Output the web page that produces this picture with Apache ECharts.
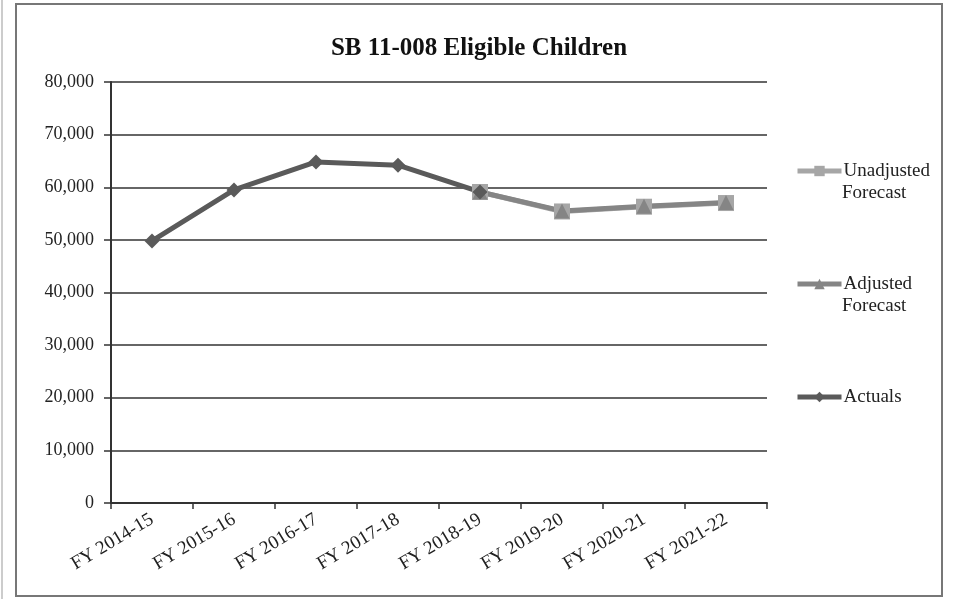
<!DOCTYPE html>
<html>
<head>
<meta charset="utf-8">
<script src="https://cdn.jsdelivr.net/npm/echarts@6/dist/echarts.min.js"></script>
<style>
  html, body { margin: 0; padding: 0; background: #fff; }
  #main { width: 953px; height: 599px; }
</style>
</head>
<body>
<div id="main"></div>
<script>
// fiscal years on the x axis
const years = ['FY 2014-15', 'FY 2015-16', 'FY 2016-17', 'FY 2017-18', 'FY 2018-19', 'FY 2019-20', 'FY 2020-21', 'FY 2021-22'];
const actuals = [49800, 59500, 64800, 64200, 59100, null, null, null];
const unadjusted = [null, null, null, null, 59100, 55400, 56300, 57000];
const adjusted = [null, null, null, null, 59100, 55500, 56400, 57100];

const chart = echarts.init(document.getElementById('main'));
const serif = '"Liberation Serif", "Times New Roman", serif';

// one legend per series so each can sit where the original puts it
function legendAt(name, label, center) {
  return {
    data: [name],
    formatter: () => label,
    left: 795,
    top: center - 11,
    padding: 0,
    itemWidth: 44,
    itemHeight: 13,
    lineStyle: { width: 5 },
    textStyle: { fontFamily: serif, fontSize: 19, color: '#222', lineHeight: 22, padding: [0, 0, 0, -3] }
  };
}

chart.setOption({
  animation: false,
  backgroundColor: '#fff',
  title: {
    text: 'SB 11-008 Eligible Children',
    left: 474,
    top: 31,
    textAlign: 'center',
    textStyle: { fontFamily: serif, fontSize: 25, fontWeight: 'bold', color: '#111' }
  },
  graphic: [
    { type: 'rect', shape: { x: 16, y: 4, width: 926, height: 592 }, style: { fill: 'none', stroke: '#777', lineWidth: 2 }, silent: true },
    { type: 'line', shape: { x1: 2, y1: 0, x2: 2, y2: 599 }, style: { stroke: '#ccc', lineWidth: 2 }, silent: true },
    { type: 'text', left: 842, top: 184, style: { text: 'Forecast', fontFamily: serif, fontSize: 19, fill: '#222' }, silent: true },
    { type: 'text', left: 842, top: 297, style: { text: 'Forecast', fontFamily: serif, fontSize: 19, fill: '#222' }, silent: true }
  ],
  legend: [
    legendAt('Unadjusted Forecast', 'Unadjusted', 171),
    legendAt('Adjusted Forecast', 'Adjusted', 284),
    legendAt('Actuals', 'Actuals', 397)
  ],
  grid: { left: 111, right: 186, top: 82, bottom: 96, containLabel: false },
  xAxis: {
    type: 'category',
    data: years,
    boundaryGap: true,
    axisLine: { lineStyle: { color: '#333', width: 2 } },
    axisTick: { show: true, length: 6, lineStyle: { color: '#333', width: 1.5 } },
    axisLabel: { rotate: 31, margin: 15, fontFamily: serif, fontSize: 19, color: '#222' },
    splitLine: { show: false }
  },
  yAxis: {
    type: 'value',
    min: 0,
    max: 80000,
    interval: 10000,
    axisLine: { show: true, lineStyle: { color: '#333', width: 2 } },
    axisTick: { show: true, length: 7, lineStyle: { color: '#333', width: 1.5 } },
    axisLabel: {
      fontFamily: serif, fontSize: 18, color: '#222', margin: 17,
      formatter: v => v.toLocaleString('en-US')
    },
    splitLine: { lineStyle: { color: '#333', width: 1.5 } }
  },
  series: [
    {
      name: 'Unadjusted Forecast',
      type: 'line',
      data: unadjusted,
      symbol: 'rect',
      symbolSize: 16,
      lineStyle: { color: '#a6a6a6', width: 5 },
      itemStyle: { color: '#a6a6a6' }
    },
    {
      name: 'Adjusted Forecast',
      type: 'line',
      data: adjusted,
      symbol: 'triangle',
      symbolSize: 15,
      lineStyle: { color: '#858585', width: 5 },
      itemStyle: { color: '#858585' }
    },
    {
      name: 'Actuals',
      type: 'line',
      data: actuals,
      symbol: 'diamond',
      symbolSize: 15,
      lineStyle: { color: '#5a5a5a', width: 5 },
      itemStyle: { color: '#5a5a5a' }
    }
  ]
});
</script>
</body>
</html>
